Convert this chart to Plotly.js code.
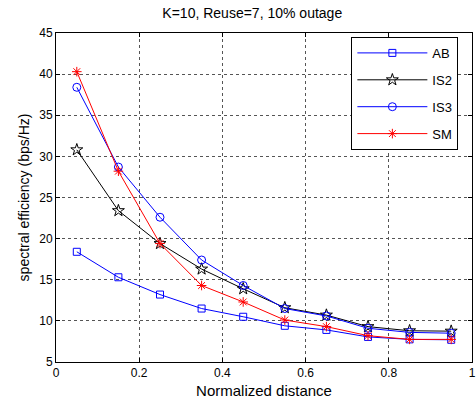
<!DOCTYPE html>
<html><head><meta charset="utf-8">
<script src="https://cdn.plot.ly/plotly-3.0.1.min.js"></script>
<style>body{margin:0;background:#fff}#c{width:476px;height:404px}</style>
</head><body><div id="c"></div>
<script>
const distance = [0.05,0.15,0.25,0.35,0.45,0.55,0.65,0.75,0.85,0.95];
const AB  = [18.4,15.3,13.2,11.5,10.5,9.4,8.9,8.05,7.75,7.7];
const IS2 = [30.8,23.4,19.4,16.3,13.9,11.6,10.7,9.3,8.8,8.75];
const IS3 = [38.4,28.7,22.6,17.4,14.3,11.5,10.6,9.1,8.6,8.5];
const SM  = [40.3,28.2,19.4,14.3,12.3,10.1,9.3,8.2,7.75,7.75];
const seriesNames = ['AB','IS2','IS3','SM'];

function tr(name, y, color, symbol, size){
  return {x: distance, y: y, name: name, type:'scatter', mode:'lines+markers',
    legendgroup: name,
    line:{color:color, width:1},
    marker:{symbol:symbol, size:size, color:color, line:{color:color, width:1}}};
}
const data = [
  tr(seriesNames[0], AB, '#0000ff', 'square-open', 7),
  tr(seriesNames[1], IS2, '#000000', 'star-open', 9),
  tr(seriesNames[2], IS3, '#0000ff', 'circle-open', 8),
  tr(seriesNames[3], SM, '#ff0000', 'asterisk-open', 8)
];
const axisCommon = {showline:true, linecolor:'#000', linewidth:1, mirror:'ticks',
  ticks:'inside', ticklen:4, tickcolor:'#000', showgrid:true, gridcolor:'#555',
  griddash:'dot', gridwidth:1, zeroline:false,
  tickfont:{family:'Liberation Sans, Arial, sans-serif', size:12, color:'#000'}};
const layout = {
  width:476, height:404,
  margin:{l:56, r:4, t:33, b:42},
  paper_bgcolor:'#fff', plot_bgcolor:'#fff',
  font:{family:'Liberation Sans, Arial, sans-serif', color:'#000'},
  title:{text:'K=10, Reuse=7, 10% outage', font:{size:14, color:'#000'}, x:0.53, xanchor:'center', y:0.968, yanchor:'middle'},
  xaxis: Object.assign({}, axisCommon, {range:[0,1], tickvals:[0,0.2,0.4,0.6,0.8,1], ticktext:['0','0.2','0.4','0.6','0.8','1'],
    title:{text:'Normalized distance', font:{size:15, color:'#000'}, standoff:6}}),
  yaxis: Object.assign({}, axisCommon, {range:[5,45], dtick:5,
    title:{text:'spectral efficiency (bps/Hz)', font:{size:14, color:'#000'}, standoff:6}}),
  showlegend:true,
  legend:{x:0.71, y:0.988, xanchor:'left', yanchor:'top', bgcolor:'#fff',
    bordercolor:'#000', borderwidth:1, tracegroupgap:7, itemwidth:70,
    font:{size:13, color:'#000'}}
};
Plotly.newPlot('c', data, layout, {displayModeBar:false, staticPlot:true});
</script>
</body></html>
